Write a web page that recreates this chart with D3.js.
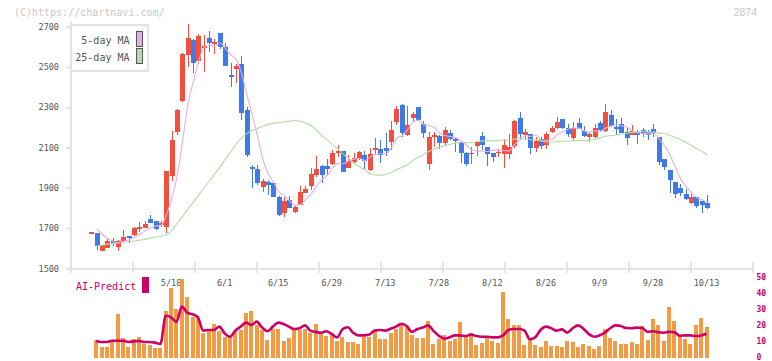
<!DOCTYPE html>
<html>
<head>
<meta charset="utf-8">
<script src="https://cdn.jsdelivr.net/npm/d3@7"></script>
<style>
  body { margin: 0; background: #fff; }
  svg { display: block; }
  text { font-family: "DejaVu Sans Mono", monospace; }
</style>
</head>
<body>
<svg id="chart"></svg>
<script>
var width = 772, height = 361;

// daily candles, index 0 = first day on the chart
var open = [1680,1677,1588,1601,1637,1607,1637,1660,1664,1703,
  1700,1743,1733,1713,1704,1958,2177,2329,2561,2634,
  2531,2598,2645,2619,2668,2601,2460,2488,2515,2286,
  2003,1995,1905,1929,1922,1856,1776,1839,1781,1816,
  1876,1909,1963,2008,2008,2018,2071,2081,2000,2028,
  2043,2064,1988,2088,2093,2098,2129,2227,2311,2162,
  2248,2301,2218,2018,2152,2157,2124,2174,2142,2129,
  2071,2066,2108,2157,2102,2071,2071,2068,2068,2107,
  2247,2164,2167,2098,2142,2112,2177,2197,2242,2197,
  2147,2222,2182,2152,2152,2222,2182,2262,2201,2217,
  2177,2164,2179,2187,2177,2192,2152,2043,1988,1929,
  1900,1869,1824,1854,1834,1824];
var high = [1680,1677,1616,1647,1650,1640,1690,1662,1703,1730,
  1733,1763,1735,1733,1985,2184,2290,2570,2713,2640,
  2666,2660,2680,2641,2670,2617,2518,2515,2554,2300,
  2013,2013,1942,1939,1930,1858,1856,1859,1809,1909,
  1909,1998,2058,2011,2041,2088,2112,2084,2063,2071,
  2083,2083,2096,2146,2137,2174,2230,2306,2314,2306,
  2278,2303,2233,2179,2179,2161,2204,2187,2154,2132,
  2078,2104,2129,2177,2104,2072,2091,2141,2167,2235,
  2276,2190,2167,2154,2154,2179,2207,2252,2244,2217,
  2227,2247,2207,2177,2218,2232,2316,2286,2243,2247,
  2202,2212,2187,2197,2187,2217,2152,2045,1990,1931,
  1919,1894,1869,1856,1836,1864];
var low = [1680,1591,1586,1600,1611,1588,1635,1627,1662,1680,
  1698,1725,1690,1707,1677,1934,2164,2325,2501,2468,
  2515,2477,2576,2566,2590,2505,2399,2419,2237,2055,
  1897,1915,1881,1862,1852,1760,1753,1798,1776,1813,
  1872,1889,1955,1922,1963,2015,2054,1977,1997,2025,
  2040,1993,1985,2068,2021,2059,2088,2212,2154,2159,
  2228,2233,2146,1988,2104,2091,2111,2137,2079,2021,
  2008,2018,2058,2088,2008,2028,2055,1998,2043,2096,
  2137,2136,2068,2078,2093,2093,2174,2192,2192,2152,
  2137,2190,2150,2127,2147,2180,2177,2200,2162,2170,
  2112,2160,2117,2152,2137,2152,2013,1988,1876,1849,
  1861,1839,1819,1800,1776,1795];
var close = [1680,1611,1614,1637,1627,1637,1657,1650,1700,1704,
  1720,1727,1697,1727,1982,2137,2286,2564,2644,2518,
  2654,2603,2619,2623,2598,2505,2452,2505,2270,2064,
  1999,1922,1935,1915,1856,1765,1834,1801,1805,1879,
  1896,1968,1993,1963,1995,2071,2084,1980,2035,2046,
  2079,2035,2068,2098,2064,2084,2187,2291,2170,2212,
  2268,2237,2174,2154,2162,2124,2187,2142,2132,2074,
  2018,2074,2127,2112,2068,2053,2078,2112,2102,2232,
  2167,2177,2098,2132,2107,2167,2197,2227,2197,2167,
  2197,2194,2157,2167,2197,2187,2276,2207,2198,2174,
  2149,2182,2164,2174,2164,2174,2028,2005,1939,1869,
  1876,1844,1854,1811,1814,1800];

// moving averages as drawn
var ma5 = [null,1694,1668,1648,1634,1625,1634,1642,1654,1670,
  1686,1700,1710,1715,1771,1854,1966,2139,2323,2430,
  2533,2597,2608,2603,2619,2590,2559,2537,2466,2359,
  2258,2152,2038,1967,1925,1879,1861,1834,1812,1817,
  1843,1870,1908,1940,1963,1998,2021,2019,2033,2043,
  2045,2035,2053,2065,2069,2070,2100,2145,2159,2189,
  2226,2236,2212,2209,2199,2170,2160,2154,2149,2132,
  2111,2088,2085,2081,2080,2087,2088,2085,2083,2115,
  2138,2158,2155,2161,2136,2136,2140,2166,2179,2191,
  2197,2196,2182,2176,2182,2180,2197,2207,2213,2208,
  2201,2182,2173,2169,2167,2172,2141,2109,2062,2003,
  1943,1907,1876,1851,1840,1825];
var ma25 = [null,1611,1615,1620,1624,1627,1630,1632,1636,1640,
  1645,1650,1655,1660,1668,1690,1725,1760,1795,1830,
  1865,1900,1935,1970,2005,2045,2080,2120,2148,2170,
  2184,2195,2206,2215,2221,2223,2227,2231,2234,2230,
  2220,2208,2185,2158,2137,2113,2093,2067,2044,2022,
  2004,1988,1970,1963,1963,1967,1977,1992,2002,2016,
  2036,2052,2067,2081,2093,2102,2110,2116,2123,2126,
  2124,2124,2130,2133,2134,2133,2134,2136,2136,2143,
  2146,2146,2138,2137,2132,2128,2127,2129,2131,2131,
  2134,2134,2135,2136,2141,2148,2156,2159,2162,2167,
  2171,2175,2177,2180,2177,2177,2171,2168,2160,2150,
  2139,2125,2110,2094,2080,2064];

// lower panel, read on the 0-50 scale
var volume = [null,11.4,7.3,7.3,10.2,27.7,12.5,7.3,11.9,13.1,
  8.9,8.1,6.4,6.4,29.6,43.9,30.8,49.6,38.3,25.6,
  24.4,16,17.3,21.4,16.9,13.1,13.9,16.9,17.7,28.5,
  29.3,20.6,17.7,11.4,18.5,18.5,10.6,12.7,17.7,17.7,
  18.5,16,21.4,15.2,13.9,15.2,11,13.1,10.2,10.2,
  8.9,13.1,13.5,16.9,12.3,12.3,16,18.5,20.6,19.3,
  14.3,12.9,12.7,23.3,8.9,11.9,14.3,10.8,12.1,22.7,
  13.9,15.8,8.1,9.6,13.1,10.8,9.6,41.4,24.6,20.6,
  20.6,8.3,11.4,8.3,6.9,10.8,7.7,7.7,7.1,10.8,
  10.2,7.1,8.9,7.7,5.8,7.7,18.3,12.7,10.8,8.9,
  8.9,10.2,8.9,20.2,11.4,24.6,20.6,10.8,32.1,23.3,
  14.5,12.1,8.9,20.6,25,19.4];
var aiPredict = [null,10.8,10.2,10.2,11,11,11,10.2,10.6,10.8,
  10.2,10.2,9.8,9,26.6,25.6,22.7,32.3,28.5,27.5,
  25.6,17.3,17.7,17.7,19.8,15.6,13.5,17.3,19.8,22.3,
  20.8,22.9,19.2,16.9,19.8,22.3,21.4,19.8,18.3,18.8,
  20.6,17.3,16.5,16,16.9,15.2,13.1,18.1,19.4,16,
  14.3,14.3,14.8,17.3,17.7,17.3,18.5,19.8,21.6,20.2,
  16.5,18.3,19.2,20.6,17.1,14.1,12.3,13.1,14.3,14.3,
  13.9,14.8,13.9,13.5,13.5,13.1,13.1,14.3,17.7,18.3,
  18.3,17.3,11.9,13.1,17.7,19.8,18.8,17.3,18.1,16,
  18.8,20.6,18.5,15.2,13.5,14.3,16,18.8,20.6,20.2,
  18.9,18.8,19.2,18.9,16.5,16.9,16.3,16,16.5,16.3,
  14.1,14.3,14.3,13.9,14.3,15.4];

var dateLabels = ["5/18","6/1","6/15","6/29","7/13","7/28","8/12","8/26","9/9","9/28","10/13"];
var dateIndex = [15,25,35,45,55,65,75,85,95,105,115];
var priceTicks = [1500,1700,1900,2100,2300,2500,2700];
var predictTicks = [0,10,20,30,40,50];

var upColor = "#f24f3e", downColor = "#3f7be6";
var ma5Color = "#e5aee6", ma25Color = "#b4dba8";
var aiColor = "#cc0066", volColor = "#f39a45";
var axisColor = "#e3e3e3", labelColor = "#555";

var svg = d3.select("#chart").attr("width", width).attr("height", height);
svg.append("rect").attr("width", width).attr("height", height).attr("fill", "#fff");

// scales
var x = d3.scaleLinear().domain([0, open.length - 1]).range([91.8, 707.5]);
var y = d3.scaleLinear().domain([1500, 2700]).range([268.3, 26.7]);
var yv = d3.scaleLinear().domain([0, 50]).range([358.3, 278.3]);

svg.append("text").attr("x", 14).attr("y", 16)
  .attr("font-size", "10px").attr("fill", "#c8c8c8")
  .text("(C)https://chartnavi.com/");
svg.append("text").attr("x", 757).attr("y", 16)
  .attr("text-anchor", "end").attr("font-size", "10.5px")
  .style("font-family", "'Liberation Sans', Arial, sans-serif")
  .attr("fill", "#c4c4c4").text("2874");

// axes
var axisG = svg.append("g").attr("shape-rendering", "crispEdges");
axisG.append("line").attr("x1", 70.5).attr("x2", 70.5).attr("y1", 22).attr("y2", 269)
  .attr("stroke", axisColor).attr("stroke-width", 2);
axisG.append("line").attr("x1", 70).attr("x2", 753).attr("y1", 268.5).attr("y2", 268.5)
  .attr("stroke", axisColor).attr("stroke-width", 2);
var gridX = d3.range(12).map(function(k) { return 70.5 + k * 62; });
axisG.selectAll(".xt").data(gridX).enter().append("line")
  .attr("x1", function(d) { return d; }).attr("x2", function(d) { return d; })
  .attr("y1", 262).attr("y2", 273)
  .attr("stroke", axisColor).attr("stroke-width", 2);

var yAxis = svg.append("g").attr("transform", "translate(70,0)")
  .call(d3.axisLeft(y).tickValues(priceTicks).tickFormat(d3.format("d"))
    .tickSize(4).tickSizeOuter(0).tickPadding(7));
yAxis.select(".domain").remove();
yAxis.selectAll("line").attr("stroke", axisColor).attr("stroke-width", 2);
yAxis.selectAll("text").attr("fill", labelColor).attr("font-size", "8.5px")
  .style("font-family", "'DejaVu Sans Mono', monospace");

svg.append("g").selectAll("text").data(dateIndex).enter().append("text")
  .attr("x", function(d) { return x(d) - 1; }).attr("y", 285.5)
  .attr("text-anchor", "middle").attr("font-size", "8.5px").attr("fill", labelColor)
  .text(function(d, i) { return dateLabels[i]; });

// right scale of the lower panel, labels nudged up so "0" stays inside
var rAxis = svg.append("g").attr("transform", "translate(756,-1.5)")
  .call(d3.axisRight(yv).tickValues(predictTicks).tickSize(0).tickPadding(0.5));
rAxis.select(".domain").remove();
rAxis.selectAll("text").attr("fill", aiColor).attr("font-size", "8px")
  .attr("font-weight", "bold")
  .style("font-family", "'DejaVu Sans Mono', monospace");

// volume bars
var days = d3.range(open.length);
svg.append("g").attr("shape-rendering", "crispEdges")
  .selectAll("rect").data(days.filter(function(i) { return volume[i] != null; }))
  .enter().append("rect")
    .attr("x", function(i) { return Math.round(x(i) - 3); })
    .attr("width", 4)
    .attr("y", function(i) { return yv(volume[i]); })
    .attr("height", function(i) { return yv(0) - yv(volume[i]); })
    .attr("fill", volColor);

// AI-Predict line
var aiLine = d3.line()
  .defined(function(i) { return aiPredict[i] != null; })
  .x(function(i) { return x(i) - 1; })
  .y(function(i) { return yv(aiPredict[i]); })
  .curve(d3.curveMonotoneX);
svg.append("path").datum(days).attr("d", aiLine)
  .attr("fill", "none").attr("stroke", aiColor).attr("stroke-width", 2.6);

svg.append("text").attr("x", 76).attr("y", 290)
  .attr("font-size", "10px").attr("fill", aiColor).text("AI-Predict");
svg.append("rect").attr("x", 142).attr("y", 277).attr("width", 7).attr("height", 16)
  .attr("fill", aiColor);

// candles
var candle = svg.append("g").attr("shape-rendering", "crispEdges")
  .selectAll("g").data(days).enter().append("g");
candle.append("rect")
  .attr("x", function(i) { return Math.round(x(i) - 2.5) + 2; })
  .attr("width", 1)
  .attr("y", function(i) { return y(high[i]); })
  .attr("height", function(i) { return Math.max(1, y(low[i]) - y(high[i])); })
  .attr("fill", function(i) { return close[i] >= open[i] ? upColor : downColor; });
candle.append("rect")
  .attr("x", function(i) { return Math.round(x(i) - 2.5); })
  .attr("width", 5)
  .attr("y", function(i) { return y(Math.max(open[i], close[i])); })
  .attr("height", function(i) { return Math.max(1.5, Math.abs(y(open[i]) - y(close[i]))); })
  .attr("fill", function(i) { return close[i] >= open[i] ? upColor : downColor; });

// moving averages
function maLine(arr) {
  return d3.line()
    .defined(function(i) { return arr[i] != null; })
    .x(function(i) { return x(i); })
    .y(function(i) { return y(arr[i]); })
    .curve(d3.curveMonotoneX);
}
svg.append("path").datum(days).attr("d", maLine(ma25))
  .attr("fill", "none").attr("stroke", ma25Color).attr("stroke-width", 1.1);
svg.append("path").datum(days).attr("d", maLine(ma5))
  .attr("fill", "none").attr("stroke", ma5Color).attr("stroke-width", 1.1);

// legend
var legend = svg.append("g");
legend.append("rect").attr("x", 71).attr("y", 25).attr("width", 77).attr("height", 46)
  .attr("fill", "#fff").attr("stroke", axisColor).attr("stroke-width", 2);
var legendItems = [["5-day MA", ma5Color, 44], ["25-day MA", ma25Color, 61]];
legendItems.forEach(function(d) {
  legend.append("text").attr("x", 129.5).attr("y", d[2]).attr("text-anchor", "end")
    .attr("font-size", "10px").attr("fill", labelColor).text(d[0]);
  legend.append("rect").attr("x", 136.5).attr("y", d[2] - 12.5).attr("width", 6).attr("height", 15)
    .attr("fill", d[1]).attr("stroke", "#555").attr("stroke-width", 1);
});
</script>
</body>
</html>
